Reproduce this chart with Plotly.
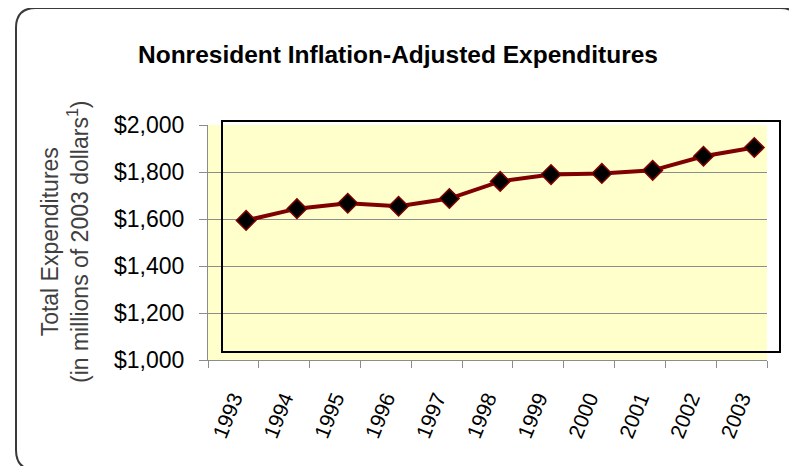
import plotly.graph_objects as go

years = ["1993", "1994", "1995", "1996", "1997", "1998", "1999", "2000", "2001", "2002", "2003"]
expenditures = [1594, 1644, 1667, 1654, 1687, 1760, 1789, 1794, 1807, 1867, 1904]
y_ticks = [1000, 1200, 1400, 1600, 1800, 2000]
y_tick_text = ["$" + f"{v:,}" for v in y_ticks]

OFF = 8  # browser default body margin
W, H = 797 - OFF, 466 - OFF
L, R, T, B = 200, 30, 117, 106
pw, ph = W - L - R, H - T - B

def px(x):
    return (x - OFF - L) / pw

def py(y):
    return (H - B - (y - OFF)) / ph

FONT = "Arial, Liberation Sans, sans-serif"

fig = go.Figure()
# invisible trace that carries the category axis labels
fig.add_trace(go.Scatter(
    x=years, y=expenditures, xaxis="x", yaxis="y", mode="markers",
    marker=dict(opacity=0), showlegend=False, hoverinfo="skip",
))
fig.add_trace(go.Scatter(
    x=years, y=expenditures, xaxis="x2", yaxis="y",
    mode="lines+markers",
    line=dict(color="#7f0000", width=4),
    marker=dict(symbol="diamond", size=15, color="#000000",
                line=dict(color="#7f0000", width=1.5)),
    showlegend=False, hoverinfo="x+y",
))

# rounded outer border
x0, x1 = px(16), px(800)
y0, y1 = py(470), py(8)
rx, ry = 20 / pw, 20 / ph
path = (f"M {x0},{y1-ry} Q {x0},{y1} {x0+rx},{y1} L {x1-rx},{y1} Q {x1},{y1} {x1},{y1-ry} "
        f"L {x1},{y0+ry} Q {x1},{y0} {x1-rx},{y0} L {x0+rx},{y0} Q {x0},{y0} {x0},{y0+ry} Z")

shapes = [
    dict(type="path", xref="paper", yref="paper", path=path,
         line=dict(color="#3a3a3a", width=2), fillcolor="rgba(0,0,0,0)", layer="below"),
    dict(type="rect", xref="paper", yref="paper",
         x0=px(222), x1=px(780), y0=py(352), y1=py(121),
         line=dict(color="#000000", width=2), fillcolor="rgba(0,0,0,0)", layer="above"),
]

fig.update_layout(
    width=W, height=H,
    margin=dict(l=L, r=R, t=T, b=B, pad=0),
    paper_bgcolor="#ffffff",
    plot_bgcolor="#ffffcc",
    font=dict(family=FONT, color="#000000"),
    title=dict(text="<b>Nonresident Inflation-Adjusted Expenditures</b>",
               x=(398 - OFF) / W, xanchor="center", y=1 - (54 - OFF) / H, yanchor="middle",
               font=dict(size=24.5, family=FONT, color="#000000")),
    xaxis=dict(type="category", categoryorder="array", categoryarray=years,
               range=[-0.5, 10.5], tickson="boundaries",
               ticks="outside", ticklen=7, tickcolor="#8c8c8c", tickwidth=1,
               showline=True, linecolor="#8c8c8c", linewidth=1,
               showgrid=False, zeroline=False,
               tickangle=-68, ticklabelstandoff=17,
               tickfont=dict(size=21, family=FONT, color="#000000")),
    xaxis2=dict(type="category", categoryorder="array", categoryarray=years,
                overlaying="x", range=[-0.75, 10.25], visible=False),
    yaxis=dict(range=[1000, 2000], tickvals=y_ticks, ticktext=y_tick_text,
               ticks="outside", ticklen=8, tickcolor="#8c8c8c",
               showline=True, linecolor="#8c8c8c", linewidth=1,
               showgrid=True, gridcolor="#8c8c8c", gridwidth=1, zeroline=False,
               tickfont=dict(size=23, family=FONT, color="#000000"),
               ticklabelstandoff=10),
    shapes=shapes,
    annotations=[dict(
        text="Total Expenditures<br>(in millions of 2003 dollars<sup>1</sup>)",
        xref="paper", yref="paper", x=px(65), y=py(242),
        xanchor="center", yanchor="middle", textangle=-90, showarrow=False,
        font=dict(size=23, family=FONT, color="#404040"),
    )],
)

fig.write_html("out.html")
